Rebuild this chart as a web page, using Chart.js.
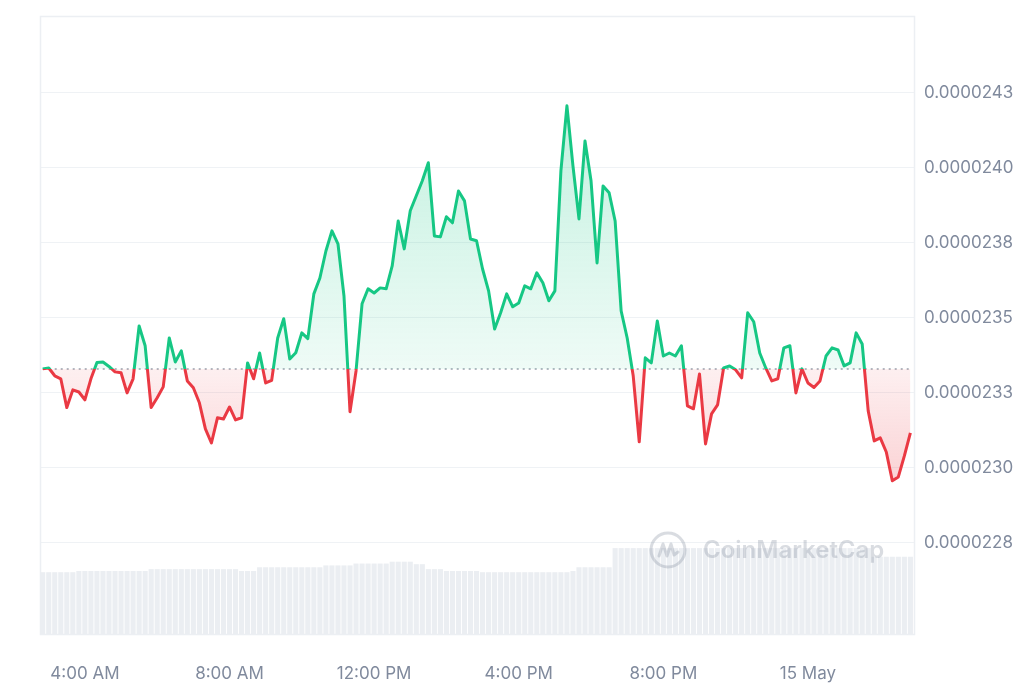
<!DOCTYPE html>
<html>
<head>
<meta charset="utf-8">
<script src="https://cdn.jsdelivr.net/npm/chart.js@4.4.1/dist/chart.umd.min.js"></script>
<style>
  html, body { margin: 0; padding: 0; background: #fff; }
  #wrap { width: 1024px; height: 683px; }
</style>
</head>
<body>
<div id="wrap"><canvas id="priceChart" width="1024" height="683"></canvas></div>
<script>
// 1. data (price every 10 minutes, 14 May 2:50 AM -> 15 May 2:50 AM)
const startMinute = 170;
const stepMinutes = 10;

const prices = [
  2.3330e-5, 2.3333e-5, 2.3307e-5, 2.3297e-5, 2.3201e-5, 2.3260e-5, 2.3253e-5, 2.3227e-5, 2.3297e-5, 2.3351e-5,
  2.3353e-5, 2.3338e-5, 2.3320e-5, 2.3317e-5, 2.3250e-5, 2.3297e-5, 2.3473e-5, 2.3407e-5, 2.3201e-5, 2.3234e-5,
  2.3270e-5, 2.3433e-5, 2.3353e-5, 2.3390e-5, 2.3290e-5, 2.3267e-5, 2.3217e-5, 2.3130e-5, 2.3083e-5, 2.3167e-5,
  2.3163e-5, 2.3203e-5, 2.3160e-5, 2.3167e-5, 2.3350e-5, 2.3297e-5, 2.3383e-5, 2.3283e-5, 2.3292e-5, 2.3433e-5,
  2.3497e-5, 2.3363e-5, 2.3384e-5, 2.3450e-5, 2.3431e-5, 2.3580e-5, 2.3633e-5, 2.3723e-5, 2.3790e-5, 2.3747e-5,
  2.3573e-5, 2.3187e-5, 2.3323e-5, 2.3547e-5, 2.3597e-5, 2.3583e-5, 2.3600e-5, 2.3597e-5, 2.3673e-5, 2.3823e-5,
  2.3730e-5, 2.3857e-5, 2.3907e-5, 2.3957e-5, 2.4017e-5, 2.3773e-5, 2.3770e-5, 2.3837e-5, 2.3817e-5, 2.3923e-5,
  2.3890e-5, 2.3763e-5, 2.3757e-5, 2.3663e-5, 2.3590e-5, 2.3463e-5, 2.3517e-5, 2.3580e-5, 2.3537e-5, 2.3550e-5,
  2.3607e-5, 2.3597e-5, 2.3650e-5, 2.3617e-5, 2.3557e-5, 2.3590e-5, 2.3990e-5, 2.4207e-5, 2.4007e-5, 2.3830e-5,
  2.4090e-5, 2.3957e-5, 2.3683e-5, 2.3940e-5, 2.3917e-5, 2.3823e-5, 2.3523e-5, 2.3433e-5, 2.3307e-5, 2.3087e-5,
  2.3367e-5, 2.3350e-5, 2.3490e-5, 2.3373e-5, 2.3383e-5, 2.3373e-5, 2.3407e-5, 2.3207e-5, 2.3197e-5, 2.3313e-5,
  2.3080e-5, 2.3180e-5, 2.3210e-5, 2.3333e-5, 2.3340e-5, 2.3327e-5, 2.3300e-5, 2.3517e-5, 2.3487e-5, 2.3383e-5,
  2.3333e-5, 2.3290e-5, 2.3297e-5, 2.3400e-5, 2.3407e-5, 2.3250e-5, 2.3330e-5, 2.3283e-5, 2.3268e-5, 2.3290e-5,
  2.3373e-5, 2.3400e-5, 2.3393e-5, 2.3340e-5, 2.3350e-5, 2.3450e-5, 2.3413e-5, 2.3190e-5, 2.3090e-5, 2.3100e-5,
  2.3053e-5, 2.2957e-5, 2.2970e-5, 2.3040e-5, 2.3117e-5
];

// volume (arbitrary units, drawn on its own hidden axis)
const volumes = [
  1.00, 1.00, 1.00, 1.00, 1.00, 1.00, 1.02, 1.02, 1.02, 1.02,
  1.02, 1.02, 1.02, 1.02, 1.02, 1.02, 1.02, 1.02, 1.05, 1.05,
  1.05, 1.05, 1.05, 1.05, 1.05, 1.05, 1.05, 1.05, 1.05, 1.05,
  1.05, 1.05, 1.05, 1.02, 1.02, 1.02, 1.08, 1.08, 1.08, 1.08,
  1.08, 1.08, 1.08, 1.08, 1.08, 1.08, 1.08, 1.11, 1.11, 1.11,
  1.11, 1.11, 1.14, 1.14, 1.14, 1.14, 1.14, 1.14, 1.17, 1.17,
  1.17, 1.17, 1.13, 1.13, 1.05, 1.05, 1.05, 1.02, 1.02, 1.02,
  1.02, 1.02, 1.02, 1.00, 1.00, 1.00, 1.00, 1.00, 1.00, 1.00,
  1.00, 1.00, 1.00, 1.00, 1.00, 1.00, 1.00, 1.00, 1.02, 1.08,
  1.08, 1.08, 1.08, 1.08, 1.08, 1.39, 1.39, 1.39, 1.39, 1.39,
  1.39, 1.39, 1.39, 1.39, 1.39, 1.39, 1.39, 1.39, 1.39, 1.39,
  1.39, 1.39, 1.39, 1.39, 1.39, 1.39, 1.39, 1.39, 1.39, 1.39,
  1.39, 1.39, 1.39, 1.39, 1.39, 1.39, 1.39, 1.39, 1.39, 1.39,
  1.39, 1.39, 1.39, 1.39, 1.39, 1.39, 1.39, 1.39, 1.25, 1.25,
  1.25, 1.25, 1.25, 1.25, 1.25
];

const yTickValues = [2.275e-5, 2.300e-5, 2.325e-5, 2.350e-5, 2.375e-5, 2.400e-5, 2.425e-5];
const yTickLabels = ['0.0000228', '0.0000230', '0.0000233', '0.0000235', '0.0000238', '0.0000240', '0.0000243'];
const xTickMinutes = [240, 480, 720, 960, 1200, 1440];
const xTickLabels = ['4:00 AM', '8:00 AM', '12:00 PM', '4:00 PM', '8:00 PM', '15 May'];

// 2. derived points
const times = prices.map((_, i) => startMinute + i * stepMinutes);
const basePrice = prices[0];
const pricePoints = prices.map((p, i) => ({ x: times[i], y: p }));
const volumePoints = volumes.map((v, i) => ({ x: times[i], y: v }));
const basePoints = [{ x: times[0], y: basePrice }, { x: times[times.length - 1], y: basePrice }];

const GREEN = [22, 199, 132];
const RED = [234, 57, 67];
const rgba = (c, a) => `rgba(${c[0]},${c[1]},${c[2]},${a})`;

// gradient with a hard switch at the opening price
function splitGradient(chart, stops) {
  const { ctx, chartArea, scales } = chart;
  if (!chartArea || !scales.y) return null;
  const basePx = scales.y.getPixelForValue(basePrice);
  const f = Math.min(1, Math.max(0, (basePx - chartArea.top) / (chartArea.bottom - chartArea.top)));
  const g = ctx.createLinearGradient(0, chartArea.top, 0, chartArea.bottom);
  g.addColorStop(0, stops[0]);
  g.addColorStop(f, stops[1]);
  g.addColorStop(f, stops[2]);
  g.addColorStop(1, stops[3]);
  return g;
}

// 3. plot frame + watermark
const framePlugin = {
  id: 'frame',
  beforeDatasetsDraw(chart) {
    const { ctx, chartArea: a } = chart;
    ctx.save();
    ctx.strokeStyle = '#eceff3';
    ctx.lineWidth = 1.5;
    ctx.strokeRect(a.left + 0.5, a.top + 0.5, a.right - a.left, a.bottom - a.top);
    ctx.restore();
  }
};

const watermarkPlugin = {
  id: 'watermark',
  afterDatasetsDraw(chart) {
    const { ctx, chartArea: a } = chart;
    const cx = a.right - 246, cy = a.bottom - 84;
    ctx.save();
    ctx.strokeStyle = 'rgba(128,138,157,0.3)';
    ctx.fillStyle = 'rgba(128,138,157,0.3)';
    ctx.lineWidth = 3;
    ctx.lineJoin = 'round';
    ctx.lineCap = 'round';
    ctx.beginPath();
    ctx.arc(cx, cy, 17, 0, Math.PI * 2);
    ctx.stroke();
    ctx.beginPath();
    ctx.moveTo(cx - 9, cy + 6);
    ctx.lineTo(cx - 5, cy - 6);
    ctx.lineTo(cx - 1, cy + 6);
    ctx.lineTo(cx + 3, cy - 6);
    ctx.lineTo(cx + 6, cy + 5);
    ctx.lineTo(cx + 10, cy + 2);
    ctx.stroke();
    ctx.font = '600 24px Inter, "Noto Sans", sans-serif';
    ctx.textBaseline = 'middle';
    ctx.fillText('CoinMarketCap', cx + 35, cy + 1);
    ctx.restore();
  }
};

// 4. chart
const tickFont = { family: 'Inter, "Noto Sans", sans-serif', size: 17 };
const TICK_COLOR = '#808a9d';

new Chart(document.getElementById('priceChart'), {
  type: 'line',
  data: {
    datasets: [
      {
        type: 'line',
        data: pricePoints,
        order: 0,
        yAxisID: 'y',
        borderWidth: 3,
        pointRadius: 0,
        tension: 0,
        borderJoinStyle: 'round',
        borderColor: (c) => splitGradient(c.chart, [rgba(GREEN, 1), rgba(GREEN, 1), rgba(RED, 1), rgba(RED, 1)]),
        backgroundColor: (c) => splitGradient(c.chart, [rgba(GREEN, 0.32), rgba(GREEN, 0.07), rgba(RED, 0.08), rgba(RED, 0.42)]),
        fill: { target: { value: basePrice } }
      },
      {
        type: 'line',
        data: basePoints,
        order: 1,
        yAxisID: 'y',
        borderColor: '#9aa1ad',
        borderWidth: 1.5,
        borderDash: [2, 4],
        pointRadius: 0,
        fill: false
      },
      {
        type: 'bar',
        data: volumePoints,
        order: 2,
        yAxisID: 'yVol',
        backgroundColor: '#ebeef2',
        barPercentage: 0.85,
        categoryPercentage: 1
      }
    ]
  },
  options: {
    responsive: false,
    animation: false,
    layout: { padding: { left: 40, top: 16, right: 0, bottom: 0 } },
    plugins: { legend: { display: false }, tooltip: { enabled: false } },
    scales: {
      x: {
        type: 'linear',
        min: 165.5,
        max: 1616,
        offset: false,
        grid: { display: false, drawTicks: false },
        border: { display: false },
        afterBuildTicks: (s) => { s.ticks = xTickMinutes.map(v => ({ value: v })); },
        afterFit: (s) => { s.height = 49; s.paddingLeft = 0; s.paddingRight = 0; },
        ticks: {
          autoSkip: false,
          maxRotation: 0,
          padding: 30,
          color: TICK_COLOR,
          font: tickFont,
          callback: (v, i) => xTickLabels[i]
        }
      },
      y: {
        position: 'right',
        min: 2.24463e-5,
        max: 2.45063e-5,
        grid: { color: '#eff2f5', lineWidth: 1, drawTicks: false },
        border: { display: false },
        afterBuildTicks: (s) => { s.ticks = yTickValues.map(v => ({ value: v })); },
        // the tick labels sit well inside the range, so drop the label half-height padding
        afterFit: (s) => { s.width = 110; s.paddingTop = 0; s.paddingBottom = 0; },
        ticks: {
          padding: 10,
          color: TICK_COLOR,
          font: tickFont,
          callback: (v, i) => yTickLabels[i]
        }
      },
      yVol: {
        display: false,
        min: 0,
        max: 10
      }
    }
  },
  plugins: [framePlugin, watermarkPlugin]
});
</script>
</body>
</html>
